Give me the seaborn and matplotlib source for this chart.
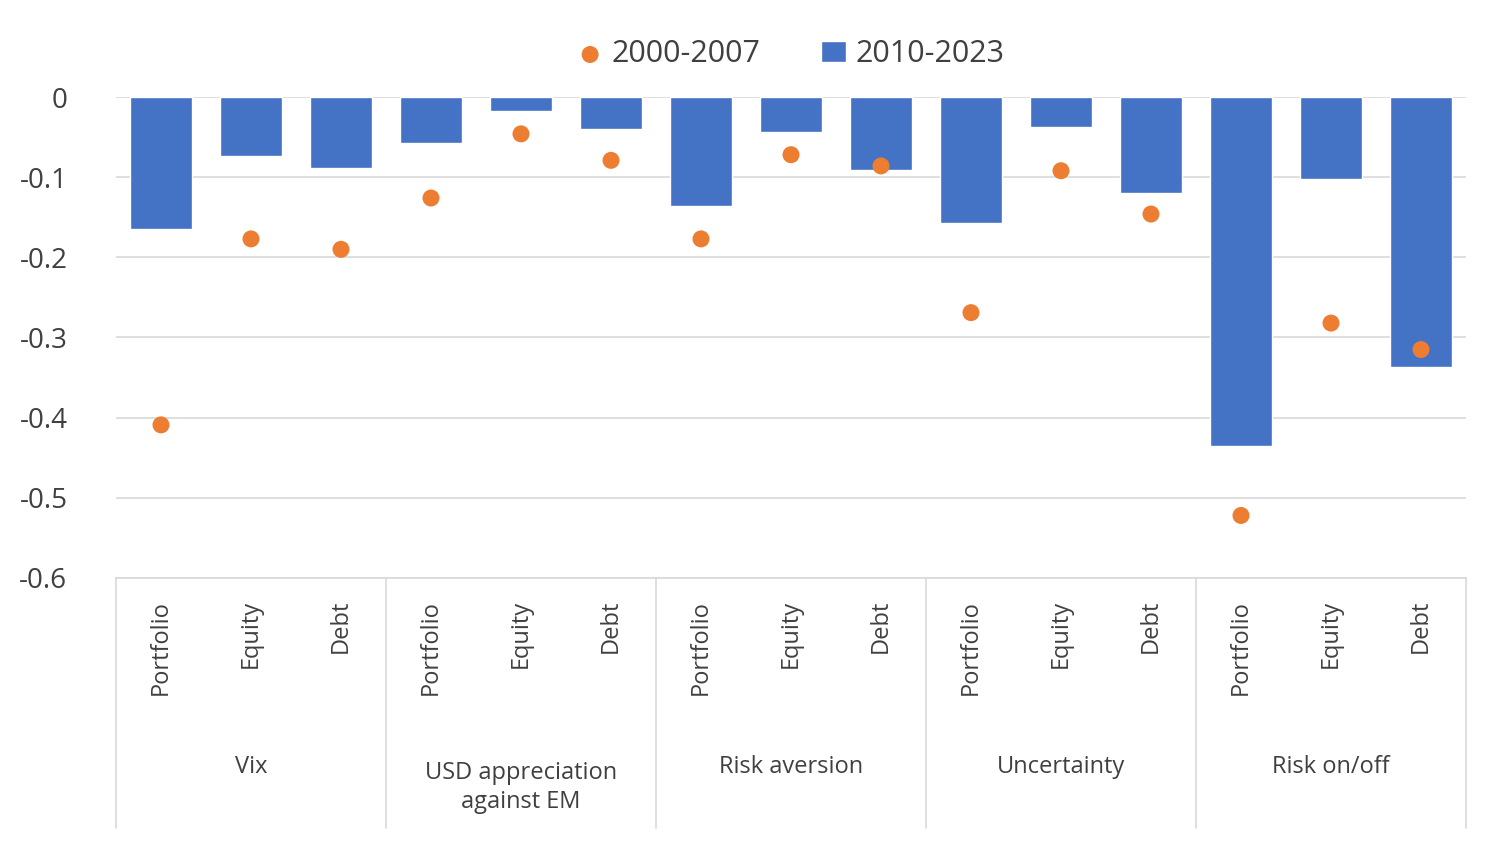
import numpy as np
import pandas as pd
import matplotlib
matplotlib.use("Agg")
import matplotlib.pyplot as plt
import seaborn as sns

groups = ["Vix", "USD appreciation\nagainst EM", "Risk aversion", "Uncertainty", "Risk on/off"]
assets = ["Portfolio", "Equity", "Debt"]
recent = [-0.165, -0.073, -0.089, -0.058, -0.018, -0.040, -0.136, -0.044, -0.091,
          -0.157, -0.038, -0.120, -0.435, -0.102, -0.337]
early = [-0.409, -0.177, -0.190, -0.126, -0.046, -0.079, -0.177, -0.072, -0.086,
         -0.269, -0.092, -0.146, -0.522, -0.282, -0.315]

sns.set_style("white")
plt.rcParams['font.family'] = ['Open Sans', 'DejaVu Sans']

n = len(recent)
df = pd.DataFrame({"pos": [str(i) for i in range(n)], "recent": recent, "early": early})
blue = "#4472C4"
orange = "#ED7D31"

fig = plt.figure(figsize=(14.92, 8.47), dpi=100)
ax = fig.add_axes([116 / 1492, 1 - 578 / 847, 1350 / 1492, 481 / 847])
sns.barplot(data=df, x="pos", y="recent", color=blue, width=0.69, ax=ax,
            saturation=1, label="2010-2023")
sns.scatterplot(x=np.arange(n), y=early, color=orange, s=150, edgecolor="none",
                ax=ax, label="2000-2007", zorder=3)

ax.set_xlim(-0.5, n - 0.5)
ax.set_ylim(-0.6, 0)
ax.set_yticks(np.arange(-0.6, 0.01, 0.1))
ax.set_yticklabels(["-0.6", "-0.5", "-0.4", "-0.3", "-0.2", "-0.1", "0"], fontsize=20, color="#404040")
ax.tick_params(axis="y", length=0, pad=35)
ax.grid(axis="y", color="#D9D9D9", linewidth=1.2)
ax.set_axisbelow(True)
for s in ["top", "right", "left"]:
    ax.spines[s].set_visible(False)
ax.spines["bottom"].set_color("#D9D9D9")
ax.spines["bottom"].set_linewidth(1.2)
ax.set_xlabel("")
ax.set_ylabel("")
ax.set_xticks([])

trans = ax.get_xaxis_transform()
for i in range(n):
    ax.text(i, -0.045, assets[i % 3], rotation=90, ha="center", va="top",
            fontsize=17, color="#404040", transform=trans)
for g, name in enumerate(groups):
    ax.text(3 * g + 1, -0.392 if "\n" not in name else -0.435, name, ha="center", va="center",
            fontsize=17, color="#404040", transform=trans, linespacing=1.3)
for b in np.arange(-0.5, n, 3):
    ax.plot([b, b], [0, -0.52], color="#D9D9D9", linewidth=1.2, transform=trans, clip_on=False)

ax.legend(loc="lower center", bbox_to_anchor=(0.5, 1.0), ncol=2, frameon=False,
          fontsize=22, handlelength=0.8, handletextpad=0.3, columnspacing=2,
          labelcolor="#404040")

fig.savefig("out.png", dpi=100)
